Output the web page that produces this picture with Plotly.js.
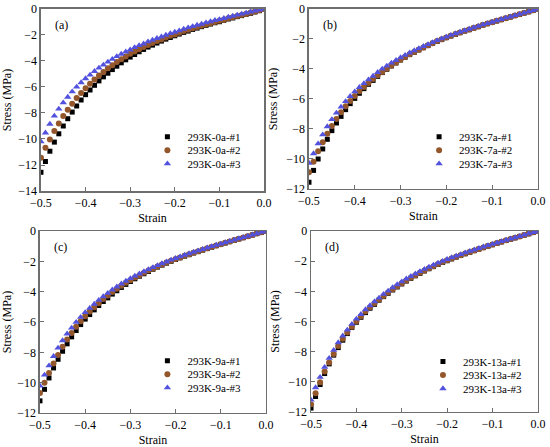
<!DOCTYPE html>
<html>
<head>
<meta charset="utf-8">
<script src="https://cdn.plot.ly/plotly-3.0.1.min.js"></script>
<style>html,body{margin:0;padding:0;background:#fff;}#chart{width:550px;height:447px;}</style>
</head>
<body>
<div id="chart"></div>
<script>
const strain = [-0.50,-0.49,-0.48,-0.47,-0.46,-0.45,-0.44,-0.43,-0.42,-0.41,-0.40,-0.39,-0.38,-0.37,-0.36,-0.35,-0.34,-0.33,-0.32,-0.31,-0.30,-0.29,-0.28,-0.27,-0.26,-0.25,-0.24,-0.23,-0.22,-0.21,-0.20,-0.19,-0.18,-0.17,-0.16,-0.15,-0.14,-0.13,-0.12,-0.11,-0.10,-0.09,-0.08,-0.07,-0.06,-0.05,-0.04,-0.03,-0.02,-0.01,0.00];

const a1 = [-12.56,-11.73,-10.94,-10.24,-9.60,-9.00,-8.44,-7.93,-7.46,-7.00,-6.59,-6.23,-5.87,-5.53,-5.22,-4.94,-4.66,-4.40,-4.14,-3.91,-3.70,-3.50,-3.29,-3.11,-2.93,-2.78,-2.62,-2.47,-2.32,-2.19,-2.06,-1.93,-1.80,-1.70,-1.57,-1.47,-1.36,-1.26,-1.16,-1.06,-0.98,-0.87,-0.77,-0.69,-0.59,-0.51,-0.41,-0.33,-0.23,-0.13,0];
const a2 = [-11.45,-10.68,-10.04,-9.39,-8.80,-8.23,-7.75,-7.28,-6.84,-6.46,-6.10,-5.76,-5.43,-5.12,-4.84,-4.55,-4.32,-4.07,-3.86,-3.65,-3.45,-3.27,-3.09,-2.93,-2.78,-2.62,-2.47,-2.34,-2.19,-2.06,-1.96,-1.83,-1.70,-1.60,-1.49,-1.39,-1.29,-1.19,-1.10,-1.00,-0.90,-0.82,-0.72,-0.64,-0.54,-0.46,-0.38,-0.28,-0.20,-0.10,0];
const a3 = [-10.20,-9.52,-8.85,-8.23,-7.69,-7.21,-6.77,-6.36,-6.00,-5.66,-5.35,-5.07,-4.79,-4.53,-4.30,-4.07,-3.86,-3.65,-3.47,-3.29,-3.14,-2.96,-2.80,-2.68,-2.52,-2.39,-2.26,-2.14,-2.01,-1.88,-1.78,-1.67,-1.54,-1.44,-1.34,-1.24,-1.16,-1.05,-0.97,-0.87,-0.80,-0.72,-0.62,-0.54,-0.46,-0.38,-0.30,-0.22,-0.14,-0.07,0];

const b1 = [-11.55,-10.76,-10.00,-9.33,-8.69,-8.11,-7.60,-7.16,-6.71,-6.31,-5.96,-5.62,-5.31,-5.02,-4.76,-4.49,-4.24,-4.02,-3.80,-3.60,-3.40,-3.22,-3.04,-2.89,-2.73,-2.58,-2.44,-2.29,-2.16,-2.04,-1.91,-1.80,-1.69,-1.58,-1.47,-1.38,-1.27,-1.18,-1.07,-0.98,-0.89,-0.80,-0.71,-0.62,-0.53,-0.44,-0.36,-0.27,-0.18,-0.09,0];
const b2 = [-10.89,-10.18,-9.49,-8.89,-8.31,-7.80,-7.33,-6.89,-6.49,-6.13,-5.80,-5.49,-5.20,-4.93,-4.67,-4.42,-4.20,-3.98,-3.76,-3.56,-3.38,-3.20,-3.02,-2.86,-2.71,-2.56,-2.42,-2.28,-2.14,-2.02,-1.90,-1.78,-1.67,-1.57,-1.46,-1.37,-1.26,-1.17,-1.07,-0.97,-0.88,-0.79,-0.70,-0.61,-0.53,-0.44,-0.35,-0.27,-0.18,-0.09,0];
const b3 = [-10.27,-9.64,-8.98,-8.38,-7.84,-7.36,-6.93,-6.53,-6.16,-5.82,-5.51,-5.22,-4.96,-4.71,-4.47,-4.22,-4.00,-3.80,-3.60,-3.42,-3.24,-3.08,-2.92,-2.77,-2.63,-2.49,-2.36,-2.23,-2.10,-1.98,-1.86,-1.75,-1.64,-1.54,-1.44,-1.34,-1.24,-1.15,-1.05,-0.96,-0.87,-0.78,-0.69,-0.60,-0.52,-0.43,-0.35,-0.26,-0.17,-0.09,0];

const c1 = [-11.20,-10.44,-9.69,-9.03,-8.46,-7.93,-7.44,-6.98,-6.56,-6.17,-5.81,-5.51,-5.20,-4.91,-4.65,-4.41,-4.16,-3.94,-3.72,-3.52,-3.33,-3.15,-2.98,-2.82,-2.67,-2.52,-2.38,-2.25,-2.12,-2.00,-1.88,-1.77,-1.66,-1.56,-1.45,-1.36,-1.26,-1.16,-1.07,-0.97,-0.88,-0.79,-0.70,-0.61,-0.52,-0.44,-0.35,-0.26,-0.17,-0.09,0];
const c2 = [-10.68,-10.00,-9.36,-8.74,-8.17,-7.64,-7.16,-6.72,-6.32,-5.95,-5.62,-5.31,-5.02,-4.76,-4.49,-4.25,-4.03,-3.81,-3.61,-3.41,-3.24,-3.07,-2.91,-2.76,-2.61,-2.47,-2.34,-2.21,-2.08,-1.96,-1.85,-1.74,-1.63,-1.53,-1.43,-1.33,-1.24,-1.14,-1.05,-0.96,-0.87,-0.78,-0.69,-0.60,-0.52,-0.43,-0.35,-0.26,-0.17,-0.09,0];
const c3 = [-10.22,-9.49,-8.88,-8.26,-7.71,-7.22,-6.78,-6.39,-6.01,-5.68,-5.37,-5.09,-4.82,-4.56,-4.32,-4.10,-3.88,-3.68,-3.48,-3.30,-3.13,-2.97,-2.82,-2.67,-2.53,-2.40,-2.27,-2.15,-2.03,-1.91,-1.80,-1.69,-1.59,-1.49,-1.39,-1.30,-1.21,-1.11,-1.02,-0.93,-0.85,-0.76,-0.67,-0.59,-0.50,-0.42,-0.34,-0.25,-0.17,-0.08,0];

const d1 = [-11.74,-10.97,-10.18,-9.45,-8.81,-8.23,-7.73,-7.24,-6.80,-6.40,-6.05,-5.72,-5.41,-5.12,-4.86,-4.59,-4.35,-4.13,-3.91,-3.71,-3.51,-3.32,-3.14,-2.97,-2.81,-2.65,-2.50,-2.36,-2.22,-2.09,-1.97,-1.85,-1.73,-1.62,-1.51,-1.41,-1.30,-1.20,-1.10,-1.00,-0.91,-0.81,-0.72,-0.63,-0.54,-0.45,-0.36,-0.27,-0.18,-0.09,0];
const d2 = [-11.48,-10.75,-10.02,-9.32,-8.72,-8.15,-7.62,-7.15,-6.73,-6.34,-5.98,-5.65,-5.34,-5.06,-4.79,-4.55,-4.31,-4.08,-3.86,-3.66,-3.47,-3.28,-3.10,-2.93,-2.77,-2.62,-2.47,-2.33,-2.19,-2.06,-1.94,-1.82,-1.71,-1.60,-1.49,-1.39,-1.29,-1.19,-1.09,-0.99,-0.90,-0.80,-0.71,-0.62,-0.53,-0.44,-0.36,-0.27,-0.18,-0.09,0];
const d3 = [-11.20,-10.38,-9.69,-9.03,-8.43,-7.90,-7.40,-6.95,-6.56,-6.18,-5.83,-5.52,-5.21,-4.94,-4.68,-4.44,-4.19,-3.97,-3.75,-3.55,-3.36,-3.17,-3.00,-2.84,-2.68,-2.53,-2.39,-2.25,-2.12,-2.00,-1.88,-1.76,-1.65,-1.55,-1.44,-1.34,-1.25,-1.15,-1.05,-0.96,-0.87,-0.78,-0.69,-0.60,-0.52,-0.43,-0.35,-0.26,-0.17,-0.09,0];

const panelLabels = ["(a)", "(b)", "(c)", "(d)"];
const seriesNames = [
  ["293K-0a-#1", "293K-0a-#2", "293K-0a-#3"],
  ["293K-7a-#1", "293K-7a-#2", "293K-7a-#3"],
  ["293K-9a-#1", "293K-9a-#2", "293K-9a-#3"],
  ["293K-13a-#1", "293K-13a-#2", "293K-13a-#3"]
];
const panelData = [[a1, a2, a3], [b1, b2, b3], [c1, c2, c3], [d1, d2, d3]];
const yMins = [-14, -12, -12, -12];
const xTitle = "Strain";
const yTitle = "Stress (MPa)";

const FONT = "Liberation Serif";
const styles = [
  {symbol: "square", color: "#000000", size: 5},
  {symbol: "circle", color: "#94572c", size: 6},
  {symbol: "triangle-up", color: "#5252de", size: 6.5}
];
const xDomains = [[0.0745, 0.480], [0.5618, 0.978], [0.0727, 0.4836], [0.5655, 0.978]];
const yDomains = [[0.5727, 0.9799], [0.5772, 0.9799], [0.0761, 0.4832], [0.0783, 0.4832]];
const legendPos = [[0.268, 0.664], [0.762, 0.664], [0.268, 0.163], [0.769, 0.161]];
const labelOffset = 12;
const legendRowGap = 13.5;

const traces = [];
const layout = {
  width: 550, height: 447,
  margin: {l: 0, r: 0, t: 0, b: 0},
  paper_bgcolor: "#ffffff", plot_bgcolor: "#ffffff",
  font: {family: FONT, size: 12, color: "#000"},
  annotations: [],
  showlegend: true
};

for (let p = 0; p < 4; p++) {
  const sfx = p === 0 ? "" : String(p + 1);
  const legendId = "legend" + sfx;
  for (let s = 0; s < 3; s++) {
    traces.push({
      type: "scatter", mode: "markers",
      x: strain, y: panelData[p][s], name: seriesNames[p][s],
      xaxis: "x" + sfx, yaxis: "y" + sfx, legend: legendId,
      marker: {symbol: styles[s].symbol, color: styles[s].color, size: styles[s].size, line: {width: 0}}
    });
  }
  const axCommon = {
    showgrid: false, zeroline: false,
    showline: true, linecolor: "#6e6e6e", linewidth: 1.5, mirror: true,
    ticks: "inside", ticklen: 4, tickcolor: "#6e6e6e", tickwidth: 1,
    tickfont: {family: FONT, size: 12, color: "#000"}
  };
  layout["xaxis" + sfx] = Object.assign({}, axCommon, {
    domain: xDomains[p], range: [-0.5, 0], dtick: 0.1, tick0: 0, tickformat: ".1f",
    anchor: "y" + sfx,
    title: {text: xTitle, font: {family: FONT, size: 12, color: "#000"}, standoff: 4}
  });
  layout["yaxis" + sfx] = Object.assign({}, axCommon, {
    domain: yDomains[p], range: [yMins[p], 0], dtick: 2, tick0: 0,
    anchor: "x" + sfx,
    title: {text: yTitle, font: {family: FONT, size: 12, color: "#000"}, standoff: 6}
  });
  layout[legendId] = {
    x: legendPos[p][0], y: legendPos[p][1], xanchor: "left", yanchor: "middle",
    xref: "paper", yref: "paper",
    bgcolor: "rgba(0,0,0,0)", borderwidth: 0,
    font: {family: FONT, size: 11, color: "#000"},
    itemwidth: 30
  };
  layout.annotations.push({
    text: panelLabels[p], xref: "x" + sfx + " domain", yref: "y" + sfx + " domain",
    x: 0, y: 1, xanchor: "left", yanchor: "top", xshift: labelOffset, yshift: -7,
    showarrow: false, font: {family: FONT, size: 12, color: "#000"}
  });
}

Plotly.newPlot("chart", traces, layout, {displayModeBar: false, staticPlot: true}).then(function (gd) {
  // tighten the vertical spacing of legend rows (Plotly enforces a 19px minimum)
  const groups = gd.querySelectorAll("g.legend, g[class^='legend']");
  groups.forEach(function (lg) {
    const items = Array.from(lg.querySelectorAll("g.traces"));
    if (items.length !== 3) return;
    const pos = items.map(function (it) {
      const m = /translate\(\s*([-\d.]+)[ ,]+([-\d.]+)\s*\)/.exec(it.getAttribute("transform") || "");
      return m ? [parseFloat(m[1]), parseFloat(m[2])] : null;
    });
    if (pos.some(function (v) { return v === null; })) return;
    const mid = pos[1][1];
    items.forEach(function (it, i) {
      it.setAttribute("transform", "translate(" + pos[i][0] + "," + (mid + (i - 1) * legendRowGap) + ")");
    });
  });
});
</script>
</body>
</html>
